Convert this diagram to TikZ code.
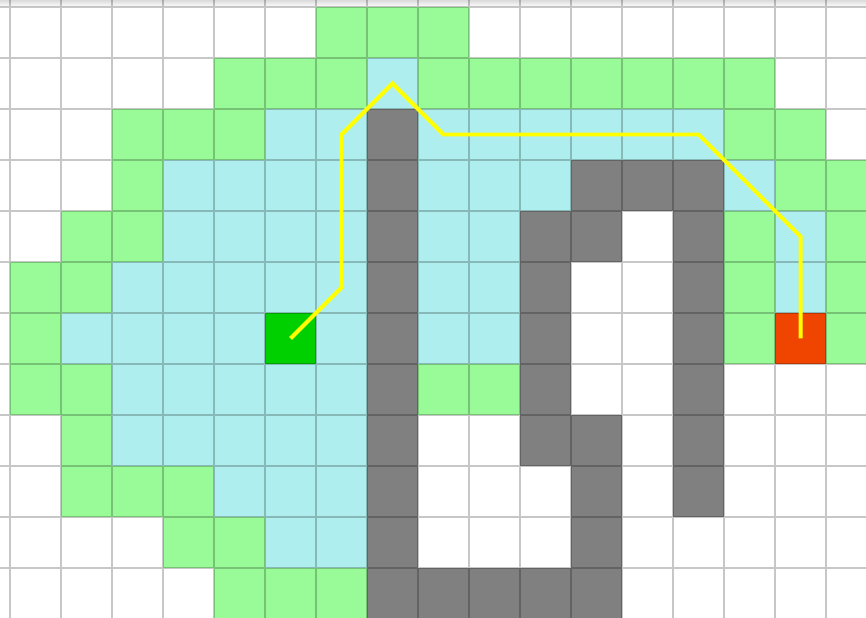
\documentclass[tikz,border=0pt]{standalone}
\usepackage{tikz}

\definecolor{openset}{HTML}{98FB98}
\definecolor{closedset}{HTML}{AFEEEE}
\definecolor{wallgray}{HTML}{808080}
\definecolor{startgreen}{HTML}{00D000}
\definecolor{goalred}{HTML}{F04500}
\definecolor{routeyellow}{HTML}{FFFF00}

\newcommand{\gridcell}[3]{\fill[#1] (#2,-#3) rectangle ++(1,-1);}

\tikzset{
    gridline/.style={draw=black, opacity=0.22, line width=0.8pt},
    endcell/.style={minimum size=1cm, inner sep=0pt, outer sep=0pt},
    route/.style={draw=routeyellow, line width=2.2pt}
}

\begin{document}
\begin{tikzpicture}
    \useasboundingbox (-0.196,-11.98) rectangle (16.784,0.137);
    \clip (-0.196,-11.98) rectangle (16.784,0.137);
    \fill[white] (-1,1) rectangle (17,-13);
    \shade[top color=black!14, bottom color=white] (-1,0.137) rectangle (17,0);

    \foreach \r/\cs in {0/{6,7,8}, 1/{4,5,6,8,9,10,11,12,13,14}, 2/{2,3,4,14,15},
        3/{2,15,16}, 4/{1,2,14,16}, 5/{0,1,14,16}, 6/{0,14,16}, 7/{0,1,8,9},
        8/{1}, 9/{1,2,3}, 10/{3,4}, 11/{4,5,6}}
        {\foreach \c in \cs {\gridcell{openset}{\c}{\r}}}

    \foreach \r/\cs in {1/{7}, 2/{5,6,8,9,10,11,12,13}, 3/{3,4,5,6,8,9,10,14},
        4/{3,4,5,6,8,9,15}, 5/{2,3,4,5,6,8,9,15}, 6/{1,2,3,4,6,8,9},
        7/{2,3,4,5,6}, 8/{2,3,4,5,6}, 9/{4,5,6}, 10/{5,6}}
        {\foreach \c in \cs {\gridcell{closedset}{\c}{\r}}}

    \foreach \r/\cs in {2/{7}, 3/{7,11,12,13}, 4/{7,10,11,13}, 5/{7,10,13},
        6/{7,10,13}, 7/{7,10,13}, 8/{7,10,11,13}, 9/{7,11,13}, 10/{7,11},
        11/{7,8,9,10,11}}
        {\foreach \c in \cs {\gridcell{wallgray}{\c}{\r}}}

    \node[endcell, fill=startgreen] (start) at (5.5,-6.5) {};
    \node[endcell, fill=goalred] (goal) at (15.5,-6.5) {};

    \draw[gridline, step=1] (-1,1) grid (17,-13);

    \draw[route] (start.center) -- (6.5,-5.5) -- (6.5,-2.5) -- (7.5,-1.5)
        -- (8.5,-2.5) -- (13.5,-2.5) -- (15.5,-4.5) -- (goal.center);
\end{tikzpicture}
\end{document}
